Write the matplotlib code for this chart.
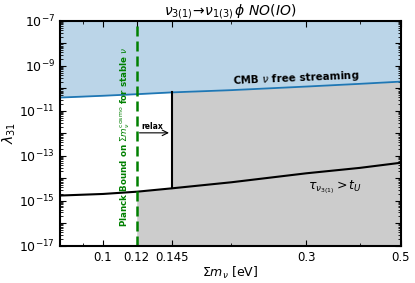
import numpy as np
import matplotlib
matplotlib.use("Agg")
import matplotlib.pyplot as plt

sum_m = [0.0793, 0.1, 0.12, 0.145, 0.2, 0.3, 0.4, 0.5]
# log10 lambda_31 of the CMB free streaming bound (blue)
log_cmb = [-10.41, -10.33, -10.26, -10.18, -10.08, -9.92, -9.80, -9.70]
# log10 lambda_31 of the lifetime > age of universe bound (black)
log_tau = [-14.77, -14.70, -14.60, -14.45, -14.18, -13.78, -13.54, -13.31]

planck = 0.12
relax = 0.145
xticks = [0.1, 0.12, 0.145, 0.3, 0.5]
xticklabels = ['0.1', '0.12', '0.145', '0.3', '0.5']
xminor = [0.09, 0.2, 0.4]

x = np.array(sum_m)
cmb = 10.0**np.array(log_cmb)
tau = 10.0**np.array(log_tau)
ymin, ymax = 1e-17, 1e-7

fig = plt.figure(figsize=(4.15, 2.83), dpi=100)
ax = fig.add_axes([0.1446, 0.132, 0.8216, 0.794])

# fine grid in log-log for the fills
xf = np.logspace(np.log10(x[0]), np.log10(x[-1]), 400)
xf = np.sort(np.concatenate([xf, [planck, relax, relax * 1.0001]]))
cmb_f = 10**np.interp(np.log10(xf), np.log10(x), log_cmb)
tau_f = 10**np.interp(np.log10(xf), np.log10(x), log_tau)

ax.fill_between(xf, cmb_f, ymax, color='C0', alpha=0.3, lw=0)
m = xf >= planck
upper = np.where(xf[m] <= relax, tau_f[m], cmb_f[m])
ax.fill_between(xf[m], ymin, upper, color='0.8', lw=0)

ax.plot(x, cmb, color='C0', lw=1.3)
ax.plot(x, tau, color='k', lw=1.5)
tau_r = 10**np.interp(np.log10(relax), np.log10(x), log_tau)
cmb_r = 10**np.interp(np.log10(relax), np.log10(x), log_cmb)
ax.plot([relax, relax], [tau_r, cmb_r], color='k', lw=1.5)
ax.axvline(planck, color='green', ls='--', lw=1.8, dashes=(4, 2))

ax.text(0.1125, 10**-12.14, r'Planck Bound on $\Sigma m_\nu^{\rm cosmo}$ for stable $\nu$',
        rotation=90, color='green', fontsize=6.3, fontweight='bold',
        ha='center', va='center')
ax.annotate('', xy=(relax, 10**-11.98), xytext=(planck, 10**-11.98),
            arrowprops=dict(arrowstyle='->', color='k', lw=0.8))
ax.text(0.1305, 10**-11.68, 'relax', fontsize=5.5, fontweight='bold',
        ha='center', va='center')
ax.text(0.284, 10**-9.55, r'CMB $\nu$ free streaming', fontsize=7.5,
        fontweight='bold', ha='center', va='center', rotation=2.5)
ax.text(0.35, 10**-14.45, r'$\tau_{\nu_{3(1)}} > t_U$', fontsize=9,
        ha='center', va='center')

ax.set_xscale('log')
ax.set_yscale('log')
ax.set_xlim(x[0], x[-1])
ax.set_ylim(ymin, ymax)
ax.set_xticks(xticks)
ax.set_xticklabels(xticklabels)
ax.set_xticks(xminor, minor=True)
ax.set_xticklabels([], minor=True)
ax.set_yticks([10.0**k for k in range(-17, -6)])
ax.set_yticklabels([r'$10^{%d}$' % k if k % 2 else '' for k in range(-17, -6)])
ax.yaxis.set_minor_locator(matplotlib.ticker.LogLocator(base=10, subs=np.arange(2, 10), numticks=20))
ax.yaxis.set_minor_formatter(matplotlib.ticker.NullFormatter())
ax.tick_params(which='both', direction='in', top=True, right=True, labelsize=9)
ax.tick_params(which='major', length=4)
ax.tick_params(which='minor', length=2)
ax.tick_params(axis='x', labelsize=8.5)
for s in ax.spines.values():
    s.set_linewidth(1.5)

ax.set_title(r'$\nu_{3(1)}\!\to\!\nu_{1(3)}\,\phi$ $NO(IO)$', fontsize=10, pad=3)
ax.set_xlabel(r'$\Sigma m_\nu$ [eV]', fontsize=9, labelpad=1)
ax.set_ylabel(r'$\lambda_{31}$', fontsize=10, labelpad=1)

fig.savefig('out.png', dpi=100)
